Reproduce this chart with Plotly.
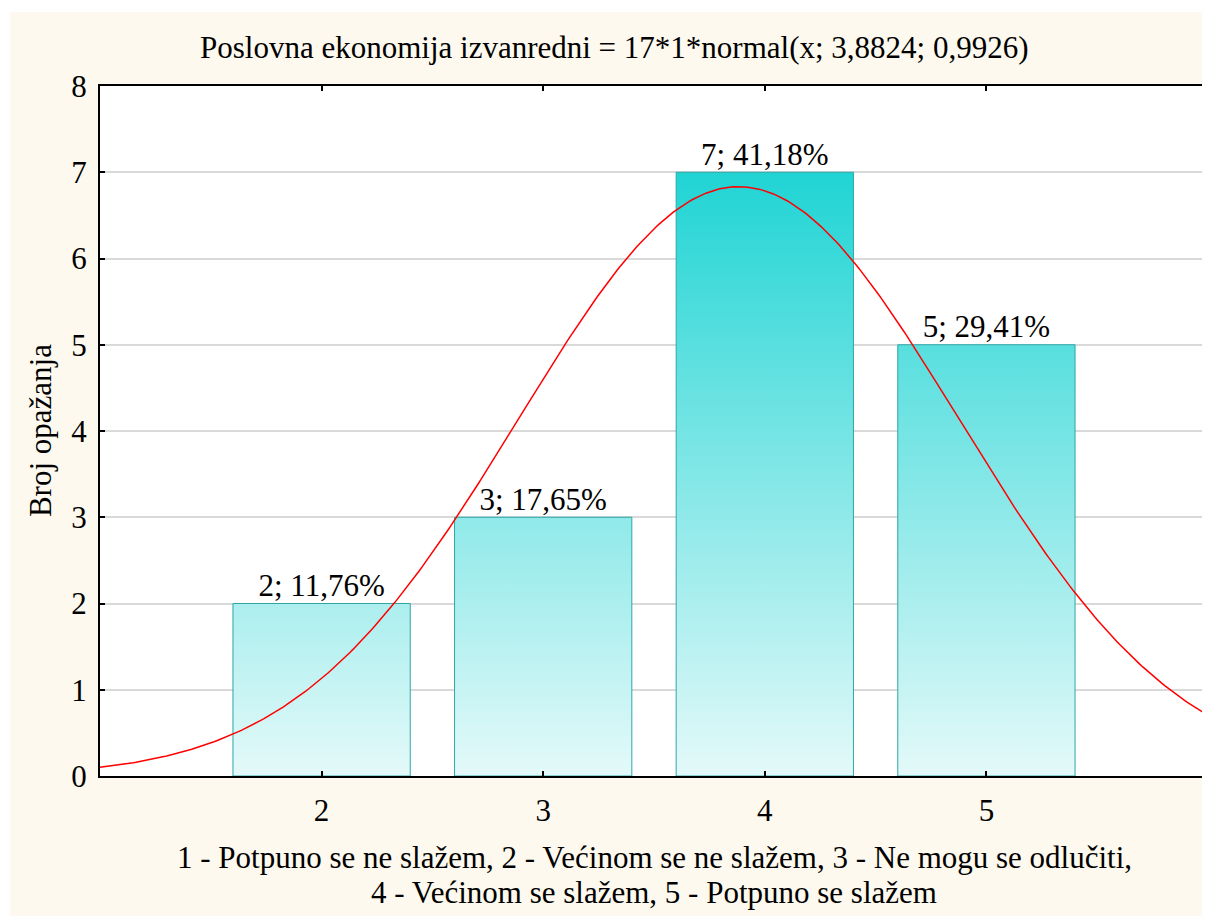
import math
import plotly.graph_objects as go

# ---- data ----
categories = [2, 3, 4, 5]
counts = [2, 3, 7, 5]
x_tick_labels = ["2", "3", "4", "5"]
y_ticks = [0, 1, 2, 3, 4, 5, 6, 7, 8]

# fitted normal (from the chart title)
N_OBS = 17
BIN_WIDTH = 1
MEAN = 3.8824
SD = 0.9926

title_text = "Poslovna ekonomija izvanredni = 17*1*normal(x; 3,8824; 0,9926)"
y_title = "Broj opažanja"
x_title_lines = [
    "1 - Potpuno se ne slažem, 2 - Većinom se ne slažem, 3 - Ne mogu se odlučiti,",
    "4 - Većinom se slažem, 5 - Potpuno se slažem",
]

# ---- layout constants ----
OFF = 8  # page body margin
W, H = 1206, 908
ML, MR, MT, MB = 92, 0, 78, 140
PW, PH = W - ML - MR, H - MT - MB
PX_PER_UNIT = 222
X_MIN = 1
X_MAX = X_MIN + PW / PX_PER_UNIT  # plot runs slightly past the window edge
FONT = "Liberation Serif"
FS = 31
CREAM = "#FDF9EE"

def px_to_paper_x(px):
    return (px - OFF - ML) / PW

def px_to_paper_y(py):
    return (H - MB - (py - OFF)) / PH

fig = go.Figure()

total = sum(counts)
half = 0.4
for c, v in zip(categories, counts):
    fig.add_trace(go.Scatter(
        x=[c - half, c - half, c + half, c + half, c - half],
        y=[0, v, v, 0, 0],
        mode="lines",
        fill="toself",
        line=dict(color="#2FA6A6", width=1),
        fillgradient=dict(type="vertical",
                          colorscale=[[0, "#E4F9F9"], [1, "#20D4D4"]],
                          start=0, stop=max(counts)),
        hoverinfo="skip",
        showlegend=False,
    ))

npts = 400
xs = [X_MIN + i * (X_MAX - X_MIN) / npts for i in range(npts + 1)]
ys = [N_OBS * BIN_WIDTH * math.exp(-((x - MEAN) ** 2) / (2 * SD ** 2)) / (SD * math.sqrt(2 * math.pi)) for x in xs]
fig.add_trace(go.Scatter(x=xs, y=ys, mode="lines",
                         line=dict(color="#FF0000", width=1.5),
                         showlegend=False, hoverinfo="skip"))

labels = [f"{v}; {100 * v / total:.2f}%".replace(".", ",") for v in counts]
fig.add_trace(go.Scatter(x=categories, y=counts, mode="text", text=labels,
                         textposition="top center",
                         textfont=dict(family=FONT, size=FS, color="black"),
                         showlegend=False, hoverinfo="skip"))

annotations = [
    dict(text=title_text, xref="paper", yref="paper",
         x=px_to_paper_x(615), y=px_to_paper_y(47), xanchor="center", yanchor="middle",
         showarrow=False, font=dict(family=FONT, size=FS, color="black")),
    dict(text=y_title, xref="paper", yref="paper", textangle=-90,
         x=px_to_paper_x(40), y=px_to_paper_y(431), xanchor="center", yanchor="middle",
         showarrow=False, font=dict(family=FONT, size=FS, color="black")),
]
for line, cy in zip(x_title_lines, [858, 893]):
    annotations.append(dict(text=line, xref="paper", yref="paper",
                            x=px_to_paper_x(655), y=px_to_paper_y(cy),
                            xanchor="center", yanchor="middle", showarrow=False,
                            font=dict(family=FONT, size=FS, color="black")))

shapes = [
    dict(type="rect", xref="paper", yref="paper", layer="below",
         x0=px_to_paper_x(OFF), x1=px_to_paper_x(W + OFF), y0=px_to_paper_y(12), y1=px_to_paper_y(OFF),
         fillcolor="white", line=dict(width=0)),
    dict(type="rect", xref="paper", yref="paper", layer="below",
         x0=px_to_paper_x(OFF), x1=px_to_paper_x(10), y0=px_to_paper_y(H + OFF), y1=px_to_paper_y(OFF),
         fillcolor="white", line=dict(width=0)),
]

fig.update_layout(
    width=W, height=H,
    margin=dict(l=ML, r=MR, t=MT, b=MB),
    paper_bgcolor=CREAM,
    plot_bgcolor="white",
    font=dict(family=FONT, size=FS, color="black"),
    annotations=annotations,
    shapes=shapes,
    showlegend=False,
)
fig.update_xaxes(range=[X_MIN, X_MAX], tickvals=categories, ticktext=x_tick_labels,
                 showgrid=False, zeroline=False,
                 showline=True, linecolor="black", linewidth=2, mirror="ticks",
                 ticks="inside", ticklen=5, tickcolor="black", tickwidth=1.5,
                 ticklabelstandoff=6,
                 tickfont=dict(family=FONT, size=FS, color="black"))
fig.update_yaxes(range=[0, 8], tickvals=y_ticks,
                 showgrid=True, gridcolor="#D9D9D9", gridwidth=1.5, zeroline=False,
                 showline=True, linecolor="black", linewidth=2, mirror="ticks",
                 ticks="inside", ticklen=5, tickcolor="black", tickwidth=1.5,
                 ticklabelstandoff=5,
                 tickfont=dict(family=FONT, size=FS, color="black"))

fig.write_html("out.html")
